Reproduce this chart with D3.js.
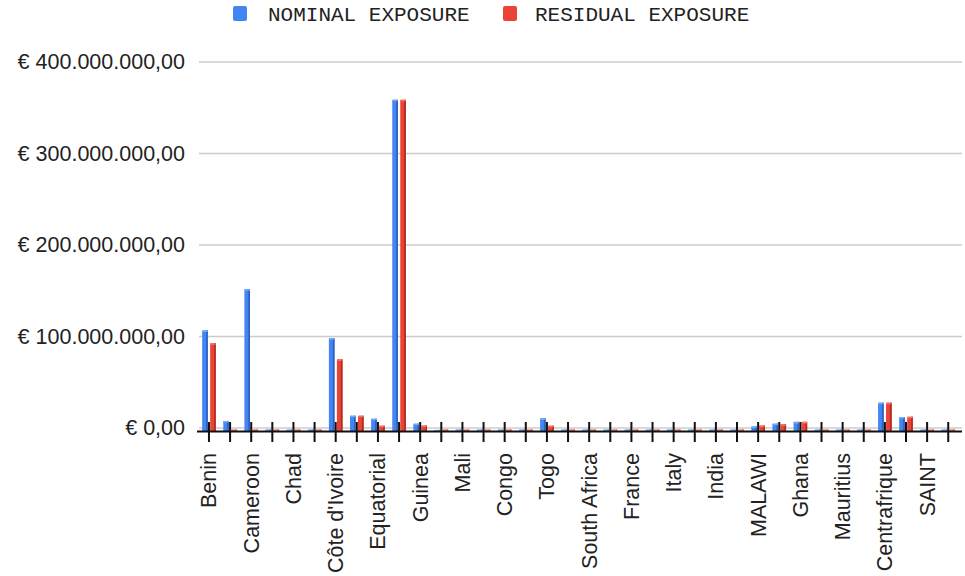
<!DOCTYPE html>
<html>
<head>
<meta charset="utf-8">
<script src="https://cdn.jsdelivr.net/npm/d3@7/dist/d3.min.js"></script>
<style>
  html, body { margin: 0; padding: 0; background: #fff; }
  svg { display: block; }
</style>
</head>
<body>
<svg id="chart" width="965" height="576"></svg>
<script>
// Category labels (only every other one is printed on the axis)
const categories = [
  "Benin", null, "Cameroon", null, "Chad", null, "Côte d'Ivoire", null,
  "Equatorial", null, "Guinea", null, "Mali", null, "Congo", null,
  "Togo", null, "South Africa", null, "France", null, "Italy", null,
  "India", null, "MALAWI", null, "Ghana", null, "Mauritius", null,
  "Centrafrique", null, "SAINT", null
];

// Exposure values in euro millions
const nominalExposure = [
  110, 11, 155, 1.5, 1.5, 1.5, 101.5, 16.7,
  13.4, 362, 8, 1.2, 1.5, 1.5, 1.5, 1.5,
  13.9, 1.5, 1.5, 1.5, 1.5, 1.5, 1.5, 1.5,
  1.5, 1.5, 5, 8, 10, 1.5, 1.5, 1.5,
  31, 15.3, 1.5, 1.5
];
const residualExposure = [
  96, 1.5, 1.5, 1.5, 1.5, 1.5, 78.4, 16.7,
  5.8, 362, 6, 1.5, 1.5, 1.5, 1.5, 1.5,
  5.8, 1.5, 1.5, 1.5, 1.5, 1.5, 1.5, 1.5,
  1.5, 1.5, 6, 7.5, 10, 1.5, 1.5, 1.5,
  31, 15.6, 1.5, 1.5
];

const yTicks = [0, 100, 200, 300, 400];
const yTickLabels = ["€ 0,00", "€ 100.000.000,00", "€ 200.000.000,00", "€ 300.000.000,00", "€ 400.000.000,00"];

const seriesNames = ["NOMINAL EXPOSURE", "RESIDUAL EXPOSURE"];
const seriesValues = [nominalExposure, residualExposure];
const seriesColors = [
  { base: "#4285f4", side: "#2f5fb8", top: "#7aa9f7" },
  { base: "#ea4335", side: "#b02a1f", top: "#f2786d" }
];

const svg = d3.select("#chart");
const depth = 3; // downward shift of the column fronts (3D floor)
const labelFont = "'Liberation Sans', Arial, sans-serif";

const x = d3.scaleBand()
  .domain(d3.range(categories.length))
  .range([198.4, 958.8]);

const inner = d3.scaleBand()
  .domain([0, 1])
  .range([-6.8, 6.8])
  .paddingInner(0.3);

const y = d3.scaleLinear()
  .domain([0, 400])
  .range([428, 62]);

// Horizontal grid lines
svg.append("g")
  .selectAll("line")
  .data(yTicks)
  .join("line")
  .attr("x1", 199).attr("x2", 962)
  .attr("y1", d => y(d)).attr("y2", d => y(d))
  .attr("stroke", "#cccccc")
  .attr("stroke-width", 1.5);

// Y axis labels
const yAxis = d3.axisLeft(y)
  .tickValues(yTicks)
  .tickFormat((d, i) => yTickLabels[i])
  .tickSize(0)
  .tickPadding(0);
svg.append("g")
  .attr("transform", "translate(185,0)")
  .call(yAxis)
  .call(g => g.select(".domain").remove())
  .selectAll("text")
  .attr("font-family", labelFont)
  .attr("font-size", 21.5)
  .attr("fill", "#222");

// Columns
const bars = svg.append("g");
seriesValues.forEach((vals, s) => {
  const col = seriesColors[s];
  const w = inner.bandwidth();
  const g = bars.append("g");
  const items = vals.map((v, i) => ({ i, v }));
  const cx = d => x(d.i) + x.bandwidth() / 2 + inner(s);
  const topY = d => y(d.v) + depth;
  const botY = y(0) + depth;

  g.selectAll("rect.front")
    .data(items)
    .join("rect")
    .attr("class", "front")
    .attr("x", cx)
    .attr("y", topY)
    .attr("width", w)
    .attr("height", d => Math.max(0, botY - topY(d)))
    .attr("fill", col.base);

  g.selectAll("rect.side")
    .data(items)
    .join("rect")
    .attr("class", "side")
    .attr("x", d => cx(d) + w - 1.6)
    .attr("y", topY)
    .attr("width", 1.6)
    .attr("height", d => Math.max(0, botY - topY(d)))
    .attr("fill", col.side);

  g.selectAll("rect.cap")
    .data(items)
    .join("rect")
    .attr("class", "cap")
    .attr("x", cx)
    .attr("y", topY)
    .attr("width", w)
    .attr("height", d => Math.min(1.6, Math.max(0, botY - topY(d))))
    .attr("rx", 1)
    .attr("fill", col.top);
});

// X axis: baseline, ticks and rotated labels
svg.append("line")
  .attr("x1", 197).attr("x2", 962)
  .attr("y1", 431.5).attr("y2", 431.5)
  .attr("stroke", "#111")
  .attr("stroke-width", 2);

const xAxis = d3.axisBottom(x)
  .tickFormat(i => categories[i] ?? "")
  .tickSizeInner(20)
  .tickSizeOuter(0)
  .tickPadding(11);

const xg = svg.append("g")
  .attr("transform", "translate(0,422)")
  .call(xAxis);
xg.select(".domain").remove();
xg.selectAll(".tick line")
  .attr("stroke", "#111")
  .attr("stroke-width", 2);
xg.selectAll(".tick text")
  .attr("font-family", labelFont)
  .attr("font-size", 21.5)
  .attr("fill", "#222")
  .attr("text-anchor", "end")
  .attr("transform", "rotate(-90)")
  .attr("x", -31)
  .attr("y", 0)
  .attr("dy", "0.35em");

// Legend
const legendItems = [
  { x: 233, tx: 268 },
  { x: 503, tx: 535 }
];
const legend = svg.append("g");
legendItems.forEach((it, s) => {
  legend.append("rect")
    .attr("x", it.x).attr("y", 6)
    .attr("width", 14).attr("height", 15)
    .attr("rx", 2)
    .attr("fill", seriesColors[s].base);
  legend.append("text")
    .attr("x", it.tx).attr("y", 14)
    .attr("dy", "0.35em")
    .attr("font-family", "'Liberation Mono', 'Courier New', monospace")
    .attr("font-size", 21)
    .attr("fill", "#222")
    .text(seriesNames[s]);
});
</script>
</body>
</html>
